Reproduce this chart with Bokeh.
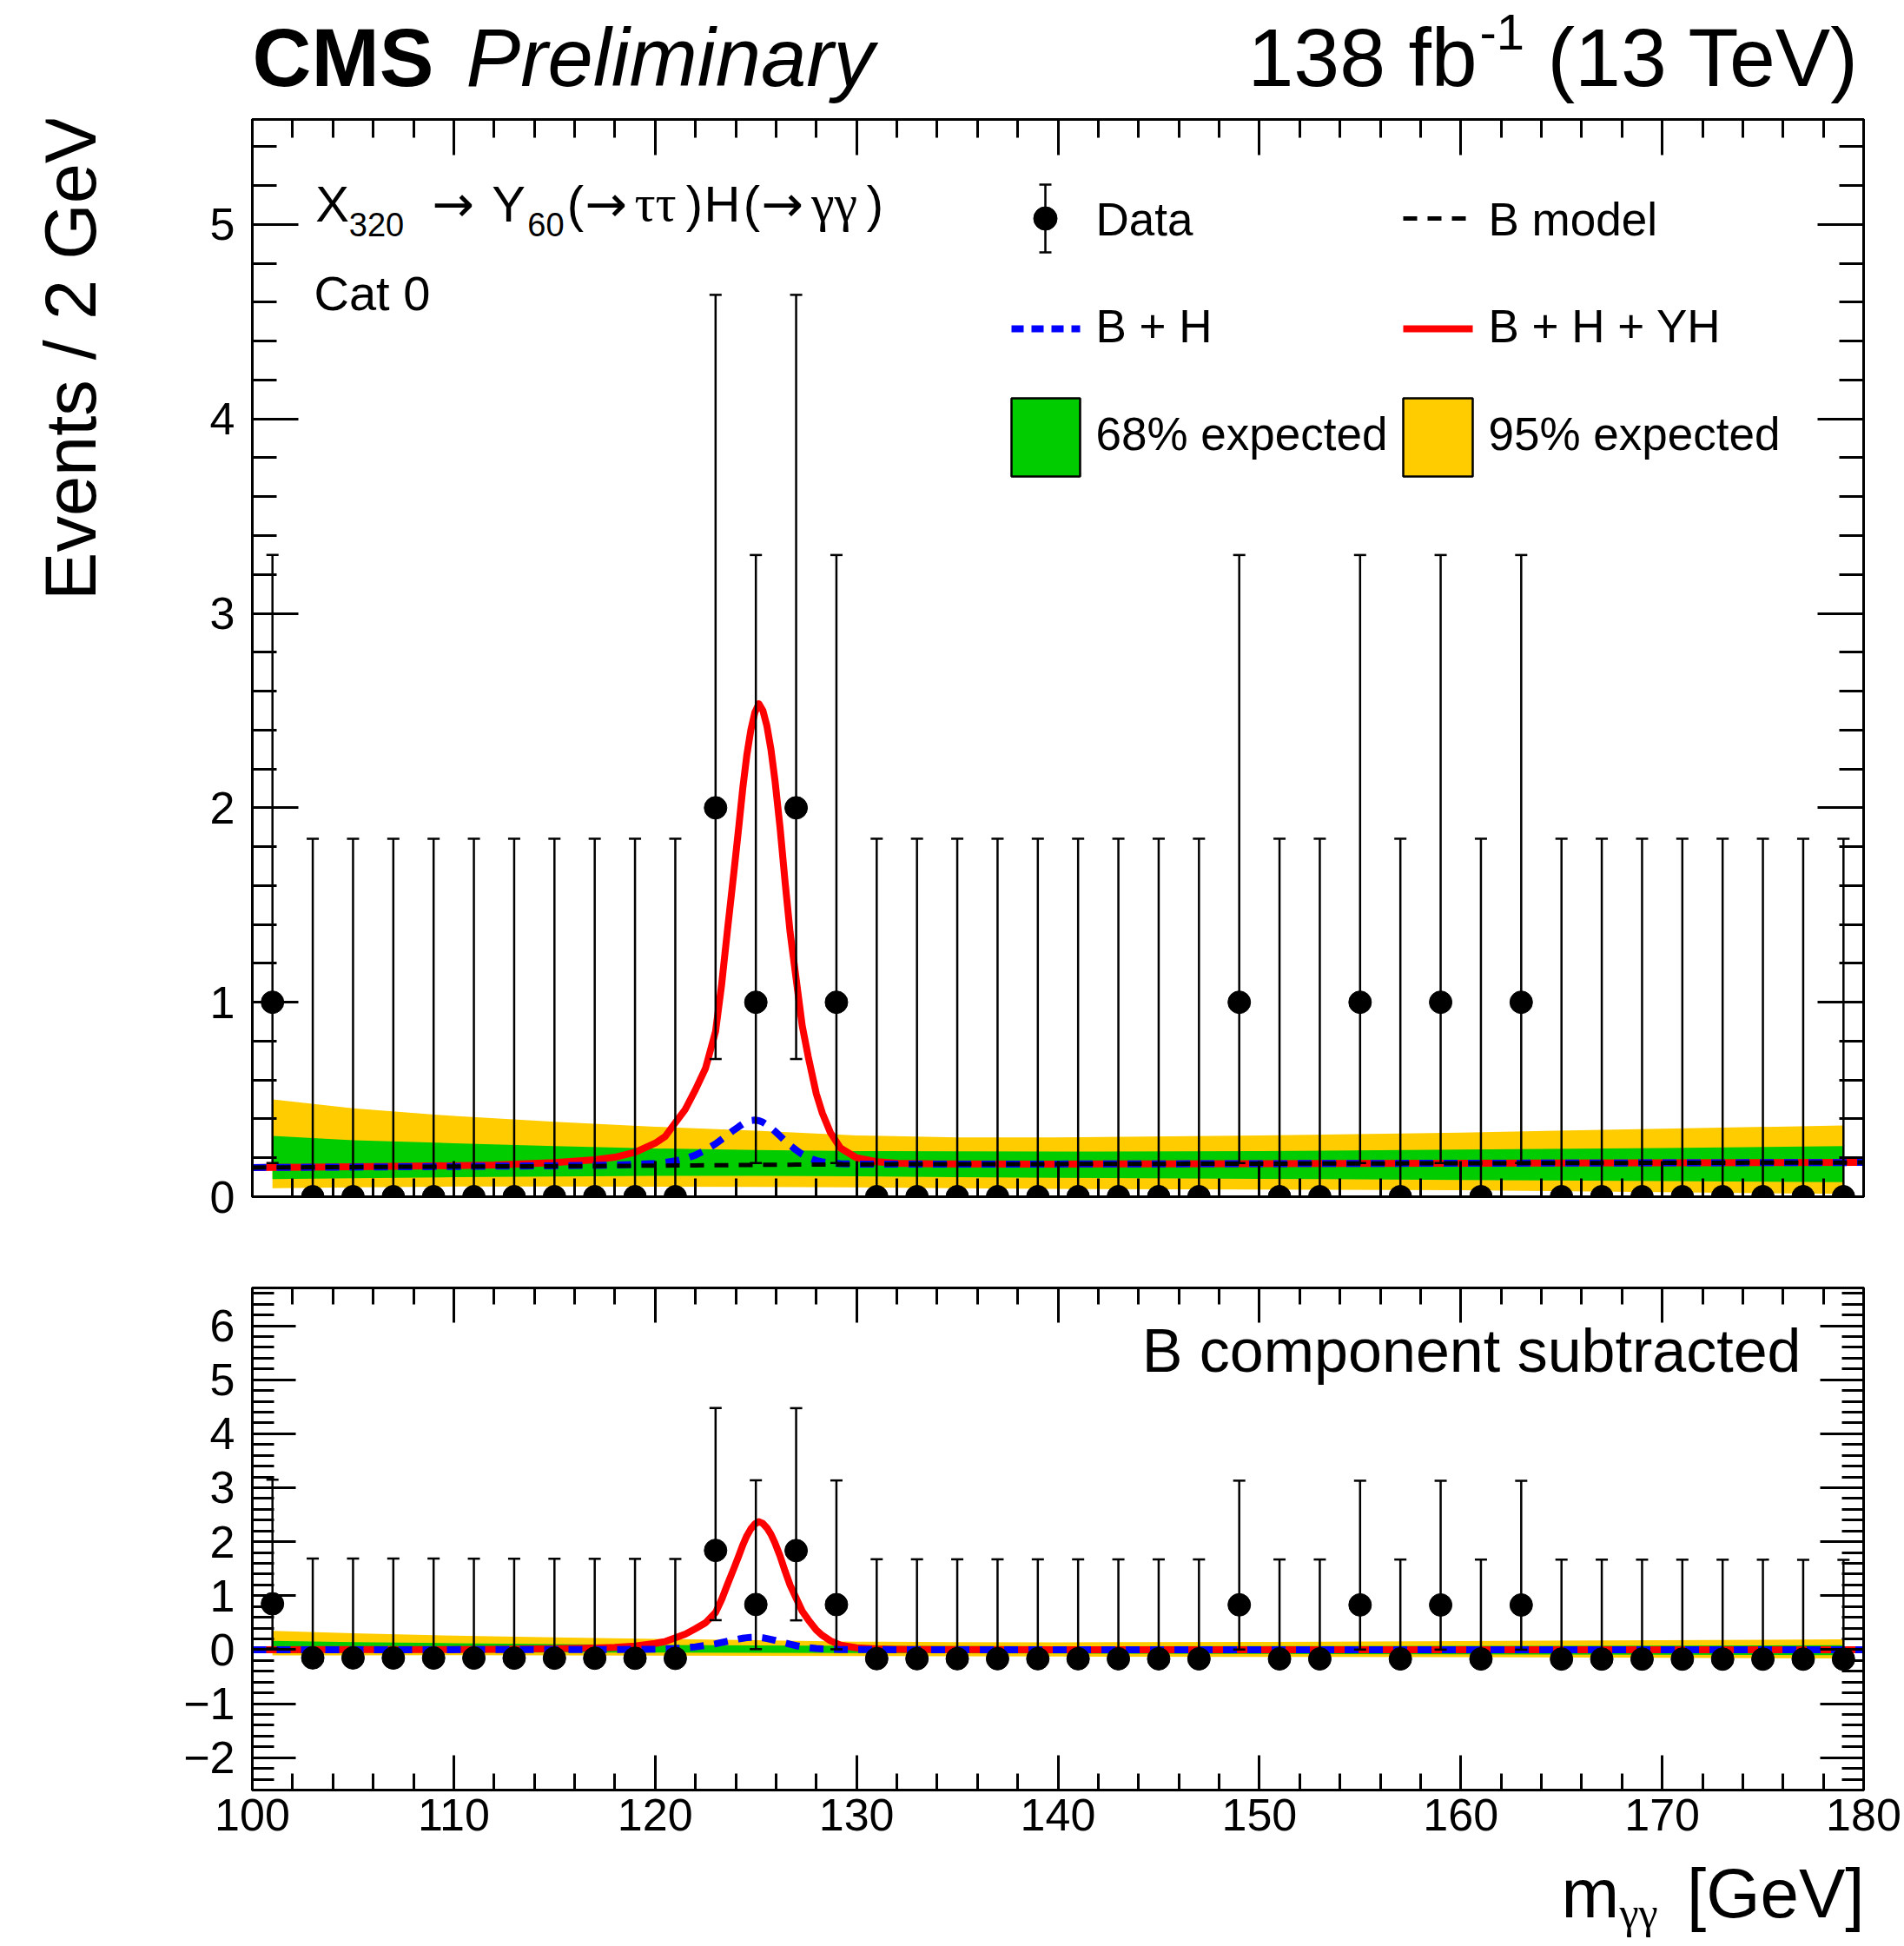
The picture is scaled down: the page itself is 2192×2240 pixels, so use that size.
import numpy as np
from bokeh.plotting import figure
from bokeh.layouts import column, row
from bokeh.models import (ColumnDataSource, Whisker, TeeHead, Label, LinearAxis, Spacer,
                          SingleIntervalTicker, CustomJSTickFormatter, Range1d)
from bokeh.embed import file_html
from bokeh.resources import INLINE

# ---------------- data ----------------
mgg_bins = [101, 103, 105, 107, 109, 111, 113, 115, 117, 119,
            121, 123, 125, 127, 129, 131, 133, 135, 137, 139,
            141, 143, 145, 147, 149, 151, 153, 155, 157, 159,
            161, 163, 165, 167, 169, 171, 173, 175, 177, 179]
counts = [1, 0, 0, 0, 0, 0, 0, 0, 0, 0,
          0, 2, 1, 2, 1, 0, 0, 0, 0, 0,
          0, 0, 0, 0, 1, 0, 0, 1, 0, 1,
          0, 1, 0, 0, 0, 0, 0, 0, 0, 0]
# 68% Poisson interval edges for each observed count
poisson_lo = {0: 0.0, 1: 0.173, 2: 0.708}
poisson_hi = {0: 1.841, 1: 3.300, 2: 4.638}

curve_x = [100, 104, 108, 112, 115, 117, 118, 119, 120, 120.5,
           121, 121.5, 122, 122.5, 123, 123.3, 123.6, 123.9, 124.15, 124.35,
           124.55, 124.75, 124.95, 125.15, 125.35, 125.55, 125.75, 125.95, 126.2, 126.45,
           126.7, 127.0, 127.3, 127.6, 128.0, 128.3, 128.7, 129.2, 130, 131,
           132, 134, 140, 150, 160, 170, 180]
b_model = [0.150, 0.152, 0.154, 0.156, 0.157, 0.158, 0.159, 0.159, 0.160, 0.160,
           0.161, 0.161, 0.161, 0.162, 0.162, 0.162, 0.162, 0.163, 0.163, 0.163,
           0.163, 0.163, 0.163, 0.163, 0.164, 0.164, 0.164, 0.164, 0.164, 0.164,
           0.164, 0.165, 0.165, 0.165, 0.165, 0.165, 0.165, 0.166, 0.166, 0.166,
           0.167, 0.167, 0.168, 0.170, 0.172, 0.174, 0.176]
b_plus_h = [0.150, 0.152, 0.154, 0.157, 0.159, 0.161, 0.163, 0.166, 0.171, 0.176,
            0.184, 0.196, 0.214, 0.240, 0.272, 0.295, 0.318, 0.342, 0.360, 0.374,
            0.385, 0.392, 0.394, 0.391, 0.383, 0.370, 0.354, 0.336, 0.312, 0.287,
            0.264, 0.240, 0.218, 0.201, 0.186, 0.179, 0.174, 0.170, 0.168, 0.167,
            0.167, 0.167, 0.168, 0.170, 0.172, 0.174, 0.176]
b_h_yh = [0.150, 0.153, 0.157, 0.163, 0.175, 0.190, 0.203, 0.228, 0.275, 0.310,
          0.380, 0.450, 0.550, 0.660, 0.850, 1.090, 1.380, 1.660, 1.900, 2.100,
          2.270, 2.400, 2.490, 2.535, 2.500, 2.420, 2.300, 2.140, 1.900, 1.620,
          1.360, 1.120, 0.880, 0.720, 0.530, 0.430, 0.330, 0.250, 0.200, 0.180,
          0.172, 0.169, 0.168, 0.170, 0.172, 0.174, 0.176]

band_x = [101, 105, 110, 115, 120, 125, 130, 135, 140, 150, 160, 170, 179]
band95_hi = [0.500, 0.455, 0.415, 0.385, 0.360, 0.340, 0.315, 0.305, 0.305, 0.315, 0.330, 0.350, 0.366]
band68_hi = [0.313, 0.290, 0.275, 0.260, 0.248, 0.240, 0.235, 0.233, 0.232, 0.235, 0.242, 0.250, 0.260]
band68_lo = [0.090, 0.095, 0.100, 0.104, 0.107, 0.107, 0.105, 0.100, 0.097, 0.092, 0.086, 0.080, 0.075]
band95_lo = [0.044, 0.048, 0.052, 0.052, 0.051, 0.050, 0.048, 0.044, 0.040, 0.037, 0.033, 0.024, 0.014]

legend_labels = ["Data", "B model", "B + H", "B + H + YH", "68% expected", "95% expected"]

# ---------------- derived quantities ----------------
cnt = np.array(counts, dtype=float)
lo_edge = np.array([poisson_lo[c] for c in counts])
hi_edge = np.array([poisson_hi[c] for c in counts])
b_at_bins = np.interp(mgg_bins, curve_x, b_model)
b_at_band = np.interp(band_x, curve_x, b_model)
bm = np.array(b_model)

# ---------------- layout constants (page pixels) ----------------
PW, PH = 2192, 2240
XS = 160            # width of the left title strip
HT = 127            # header height
L, R = 290, 2145
T1, B1 = 137, 1377
T2, B2 = 1482, 2060
ROW1_END = 1430
ROW2_END = 2130
PAGE_END = 2237
XR = (100, 180)
YR1 = (0.0, 5.54)
YR2 = (-2.6, 6.7)
FONT = "Liberation Sans"
SERIF = "Liberation Serif"
ARROWF = "DejaVu Sans"
YELLOW = "#ffcc00"
GREEN = "#00cc00"
BASE_OFF = 0.36     # baseline correction (fraction of font size)


def to_data(px, py, top, bot, yr):
    x = XR[0] + (px - L) / (R - L) * (XR[1] - XR[0])
    y = yr[0] + (bot - py) / (bot - top) * (yr[1] - yr[0])
    return x, y


def d1(px, py):
    return to_data(px, py, T1, B1, YR1)


def d2(px, py):
    return to_data(px, py, T2, B2, YR2)


def ident(px, py):
    return px, py


def strip(w, h, x0, y0):
    s = figure(width=w, height=h, x_range=Range1d(x0, x0 + w), y_range=Range1d(y0 + h, y0),
               output_backend="svg", toolbar_location=None,
               x_axis_location=None, y_axis_location=None, min_border=0)
    s.grid.visible = False
    s.outline_line_color = None
    s.background_fill_color = "white"
    s.border_fill_color = "white"
    return s


def make_fig(h, row_top, frame_top, frame_bot, yr):
    p = figure(width=PW - XS, height=h, x_range=Range1d(*XR), y_range=Range1d(*yr),
               output_backend="svg", toolbar_location=None,
               x_axis_location=None, y_axis_location=None,
               min_border_left=L - XS, min_border_right=PW - R,
               min_border_top=frame_top - row_top,
               min_border_bottom=row_top + h - frame_bot)
    p.grid.visible = False
    p.outline_line_color = "black"
    p.outline_line_width = 3
    p.background_fill_color = "white"
    p.border_fill_color = "white"
    return p


def style_axis(ax, maj, mnr, show, standoff=16, formatter=None):
    ax.axis_line_width = 3
    ax.axis_line_color = "black"
    ax.major_tick_in = maj
    ax.major_tick_out = 0
    ax.minor_tick_in = mnr
    ax.minor_tick_out = 0
    ax.major_tick_line_width = 3
    ax.minor_tick_line_width = 3
    ax.major_tick_line_color = "black"
    ax.minor_tick_line_color = "black"
    if show:
        ax.major_label_text_font = FONT
        ax.major_label_text_font_size = "52px"
        ax.major_label_text_color = "black"
        ax.major_label_standoff = standoff
        if formatter is not None:
            ax.formatter = formatter
    else:
        ax.formatter = CustomJSTickFormatter(code="return ''")
        ax.major_label_text_font_size = "0px"
        ax.major_label_standoff = 0


def add_axes(p, xmaj, xmin, ymaj, ymin, show_x, yformatter=None):
    for side in ("below", "above"):
        ax = LinearAxis(ticker=SingleIntervalTicker(interval=10, num_minor_ticks=5))
        style_axis(ax, xmaj, xmin, show_x and side == "below", standoff=10)
        p.add_layout(ax, side)
    for side in ("left", "right"):
        ax = LinearAxis(ticker=SingleIntervalTicker(interval=1, num_minor_ticks=5))
        style_axis(ax, ymaj, ymin, side == "left", standoff=20, formatter=yformatter)
        p.add_layout(ax, side)


def label(p, conv, px, py, text, size, font=FONT, style="normal", align="left", angle=0.0):
    # px, py: wanted page position of the text's baseline anchor
    if angle == 0.0:
        py = py - BASE_OFF * size
    else:
        px = px - BASE_OFF * size
    x, y = conv(px, py)
    p.add_layout(Label(x=x, y=y, text=text, text_font=font, text_font_size=f"{size}px",
                       text_font_style=style, text_align=align, text_baseline="alphabetic",
                       angle=angle, text_color="black"))


# ================= header strip =================
head = strip(PW, HT, 0, 0)
label(head, ident, 290, 100, "CMS", 94, style="bold")
label(head, ident, 536, 100, "Preliminary", 94, style="italic")
label(head, ident, 1436, 100, "138 fb", 95)
label(head, ident, 1703, 57, "-1", 58)
label(head, ident, 2140, 100, "(13 TeV)", 95, align="right")

# ================= y title strip =================
ystrip = strip(XS, ROW1_END - HT, 0, HT)
label(ystrip, ident, 111, 122, "Events / 2 GeV", 83, align="right", angle=np.pi / 2)

# ================= top panel =================
p1 = make_fig(ROW1_END - HT, HT, T1, B1, YR1)
add_axes(p1, 41, 21, 53, 28, show_x=False)

p1.varea(x=band_x, y1=band95_lo, y2=band95_hi, fill_color=YELLOW, fill_alpha=1.0)
p1.varea(x=band_x, y1=band68_lo, y2=band68_hi, fill_color=GREEN, fill_alpha=1.0)
p1.line(curve_x, b_h_yh, line_color="red", line_width=8, line_join="round")
p1.line(curve_x, b_plus_h, line_color="blue", line_width=8, line_dash="16 12")
p1.line(curve_x, b_model, line_color="black", line_width=5, line_dash="16 12")

src1 = ColumnDataSource(dict(x=mgg_bins, y=cnt, lo=lo_edge, hi=hi_edge))
p1.scatter("x", "y", source=src1, size=26, color="black")
p1.add_layout(Whisker(source=src1, base="x", lower="lo", upper="hi", level="overlay",
                      line_color="black", line_width=2.5,
                      upper_head=TeeHead(size=14, line_width=2.5, line_color="black"),
                      lower_head=TeeHead(size=14, line_width=2.5, line_color="black")))

# legend (drawn by hand, positions in page pixels)
cx, cy = d1(1203, 251)
ey0 = d1(1203, 212)[1]
ey1 = d1(1203, 290)[1]
cxl, cxr = d1(1196, 0)[0], d1(1210, 0)[0]
p1.segment(x0=[cx], y0=[ey0], x1=[cx], y1=[ey1], line_color="black", line_width=2.5)
p1.segment(x0=[cxl, cxl], y0=[ey0, ey1], x1=[cxr, cxr], y1=[ey0, ey1], line_color="black", line_width=2.5)
p1.scatter([cx], [cy], size=27, color="black")
lx0, lx1 = d1(1164, 0)[0], d1(1243, 0)[0]
rx0, rx1 = d1(1615, 0)[0], d1(1695, 0)[0]
yrow1 = d1(0, 251)[1]
yrow2 = d1(0, 378)[1]
p1.line([rx0, rx1], [yrow1, yrow1], line_color="black", line_width=5, line_dash="16 12")
p1.line([lx0, lx1], [yrow2, yrow2], line_color="blue", line_width=8, line_dash="14 9")
p1.line([rx0, rx1], [yrow2, yrow2], line_color="red", line_width=8)
bt, bb = d1(0, 458)[1], d1(0, 548)[1]
p1.quad(left=[lx0], right=[lx1], top=[bt], bottom=[bb], fill_color=GREEN, line_color="black", line_width=2.5)
p1.quad(left=[rx0], right=[rx1], top=[bt], bottom=[bb], fill_color=YELLOW, line_color="black", line_width=2.5)
label(p1, d1, 1261, 271, legend_labels[0], 53)
label(p1, d1, 1713, 271, legend_labels[1], 53)
label(p1, d1, 1261, 394, legend_labels[2], 53)
label(p1, d1, 1713, 394, legend_labels[3], 53)
label(p1, d1, 1261, 518, legend_labels[4], 53)
label(p1, d1, 1713, 518, legend_labels[5], 53)

# process text
label(p1, d1, 382, 255, "X", 58, align="center")
label(p1, d1, 433, 272, "320", 38, align="center")
label(p1, d1, 521, 255, "\u2192", 58, font=ARROWF, align="center")
label(p1, d1, 585, 255, "Y", 58, align="center")
label(p1, d1, 628, 272, "60", 38, align="center")
label(p1, d1, 662, 255, "(", 58, align="center")
label(p1, d1, 697, 255, "\u2192", 58, font=ARROWF, align="center")
label(p1, d1, 754, 255, "\u03c4\u03c4", 60, font=SERIF, align="center")
label(p1, d1, 799, 255, ")", 58, align="center")
label(p1, d1, 831, 255, "H", 58, align="center")
label(p1, d1, 865, 255, "(", 58, align="center")
label(p1, d1, 900, 255, "\u2192", 58, font=ARROWF, align="center")
label(p1, d1, 960, 255, "\u03b3\u03b3", 60, font=SERIF, align="center")
label(p1, d1, 1007, 255, ")", 58, align="center")
label(p1, d1, 361, 357, "Cat 0", 56)

# ================= bottom panel =================
p2 = make_fig(ROW2_END - ROW1_END, ROW1_END, T2, B2, YR2)
minus_fmt = CustomJSTickFormatter(code="return tick < 0 ? '\\u2212' + (-tick) : '' + tick;")
add_axes(p2, 40, 19, 50, 25, show_x=True, yformatter=minus_fmt)

p2.varea(x=band_x, y1=np.array(band95_lo) - b_at_band, y2=np.array(band95_hi) - b_at_band,
         fill_color=YELLOW, fill_alpha=1.0)
p2.varea(x=band_x, y1=np.array(band68_lo) - b_at_band, y2=np.array(band68_hi) - b_at_band,
         fill_color=GREEN, fill_alpha=1.0)
p2.line(curve_x, np.array(b_h_yh) - bm, line_color="red", line_width=8, line_join="round")
p2.line(curve_x, np.array(b_plus_h) - bm, line_color="blue", line_width=8, line_dash="16 12")

src2 = ColumnDataSource(dict(x=mgg_bins, y=cnt - b_at_bins,
                             lo=lo_edge - b_at_bins, hi=hi_edge - b_at_bins))
p2.scatter("x", "y", source=src2, size=26, color="black")
p2.add_layout(Whisker(source=src2, base="x", lower="lo", upper="hi", level="overlay",
                      line_color="black", line_width=2.5,
                      upper_head=TeeHead(size=14, line_width=2.5, line_color="black"),
                      lower_head=TeeHead(size=14, line_width=2.5, line_color="black")))

label(p2, d2, 2073, 1580, "B component subtracted", 70, align="right")

# ================= x title strip =================
xstrip = strip(PW, PAGE_END - ROW2_END, 0, ROW2_END)
label(xstrip, ident, 1797, 2208, "m", 80)
label(xstrip, ident, 1864, 2219, "\u03b3\u03b3", 50, font=SERIF)
label(xstrip, ident, 2146, 2208, "[GeV]", 80, align="right")

layout = column(head,
                row(ystrip, p1, spacing=0),
                row(Spacer(width=XS, height=ROW2_END - ROW1_END), p2, spacing=0),
                xstrip, spacing=0)
open("out.html", "w").write(file_html(layout, INLINE))
